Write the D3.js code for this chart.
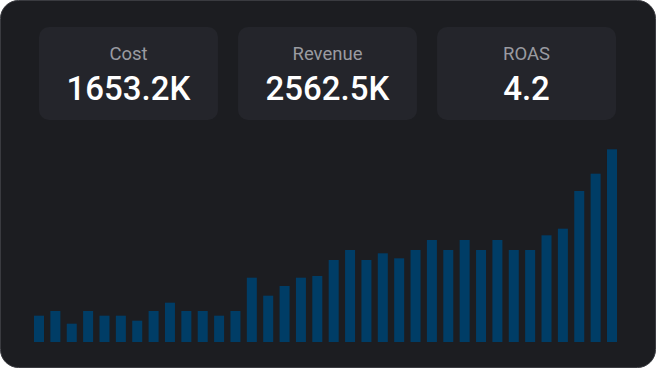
<!DOCTYPE html>
<html><head><meta charset="utf-8">
<script src="https://cdn.jsdelivr.net/npm/d3@7/dist/d3.min.js"></script>
<style>
html,body{margin:0;padding:0;background:#ffffff;}
svg{display:block;}
</style></head>
<body>
<svg id="c" width="656" height="368"></svg>
<script>
const kpiLabels = ["Cost", "Revenue", "ROAS"];
const kpiValues = ["1653.2K", "2562.5K", "4.2"];
const days = d3.range(1, 37).map(d => "D" + d);
const values = [26.3, 31, 18.3, 31, 26.3, 26.3, 21.3, 31, 39.3, 31, 31, 26.3, 31,
  64.3, 46.3, 56, 64.3, 66, 82, 92, 82, 88.7, 83.7, 92, 102, 92, 102, 92, 102, 92, 92,
  106.7, 113.3, 151, 168.3, 192.7];

const W = 656, H = 368;
const svg = d3.select("#c");
svg.append("rect").attr("x", 0.5).attr("y", 0.5).attr("width", W - 1).attr("height", H - 1)
  .attr("rx", 18).attr("fill", "#1c1d21").attr("stroke", "#3a3b40").attr("stroke-width", 1);

const cx = d3.scaleBand().domain(kpiLabels).range([39, 616]).paddingInner(0.1006);
const g = svg.selectAll("g.kpi").data(kpiLabels).join("g").attr("class", "kpi")
  .attr("transform", d => `translate(${cx(d)},27)`);
g.append("rect").attr("width", cx.bandwidth()).attr("height", 93).attr("rx", 10).attr("fill", "#24252b");
g.append("text").attr("x", cx.bandwidth() / 2).attr("y", 33).attr("text-anchor", "middle")
  .attr("font-family", "Roboto, sans-serif").attr("font-size", 18.5).attr("fill", "#9a9ba1")
  .text(d => d);
g.append("text").attr("x", cx.bandwidth() / 2).attr("y", 73).attr("text-anchor", "middle")
  .attr("font-family", "Roboto, sans-serif").attr("font-weight", 500).attr("font-size", 33).attr("fill", "#ffffff")
  .text((d, i) => kpiValues[i]);

const x = d3.scaleBand().domain(days).range([34, 617]).paddingInner(0.389).paddingOuter(0);
const y = d3.scaleLinear().domain([0, d3.max(values)]).range([342, 149.3]);
svg.append("g").selectAll("rect").data(values).join("rect")
  .attr("x", (d, i) => x(days[i])).attr("width", x.bandwidth())
  .attr("y", d => y(d)).attr("height", d => y(0) - y(d))
  .attr("fill", "#003d66");
</script>
</body></html>
